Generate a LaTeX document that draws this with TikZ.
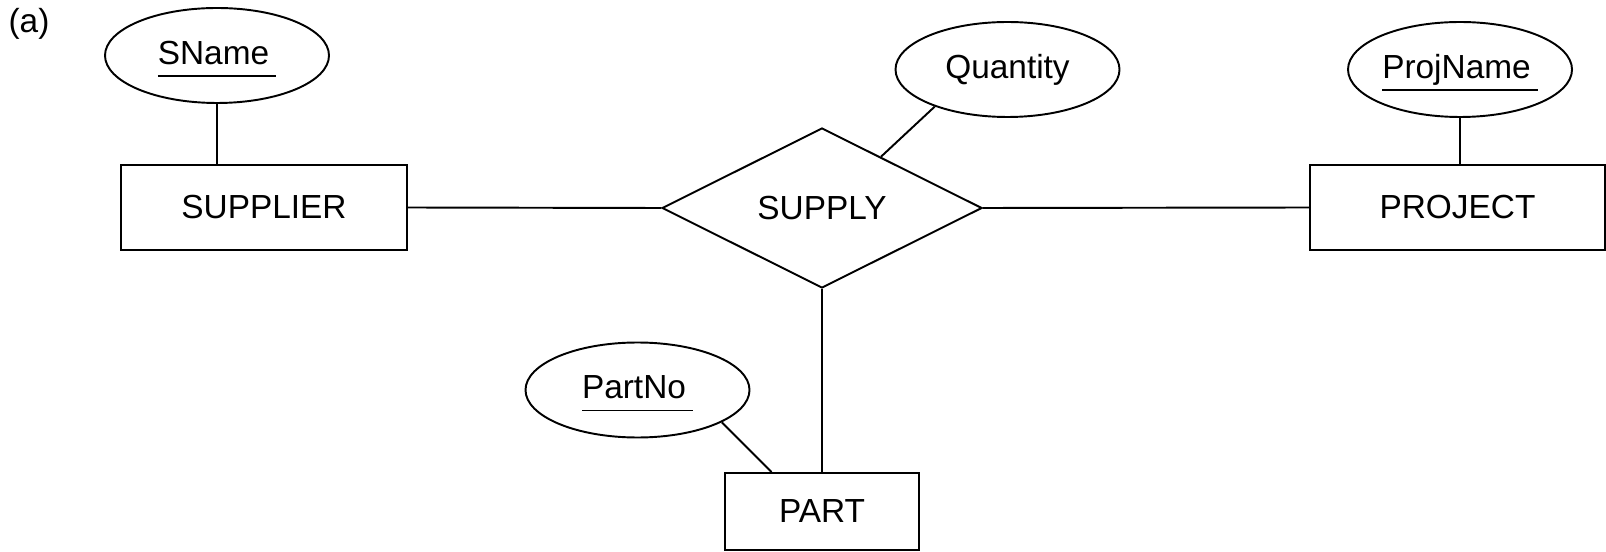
\documentclass[tikz,border=0pt]{standalone}
\usepackage{fontspec}
\setmainfont{Liberation Sans}
\usepackage{tikz}
\usetikzlibrary{shapes.geometric}
\tikzset{every node/.append style={font=\fontsize{9.5pt}{11pt}\selectfont}}
\tikzset{every path/.append style={line width=.55pt}}
\tikzset{entity/.style={draw, rectangle, inner sep=0pt}}
\tikzset{attr/.style={draw, ellipse, inner sep=0pt, minimum width=2.24cm, minimum height=.95cm}}
\tikzset{keyattr/.style={attr, text height=8.5pt, text depth=3.4pt}}
\tikzset{rel/.style={draw, diamond, inner sep=0pt, minimum width=3.2cm, minimum height=1.6cm}}
\newcommand{\ulkey}[1]{\setbox0\hbox{#1\kern2pt}\dp0=0pt\vtop{\box0\kern3pt\hrule height .45pt}}

\begin{document}
\begin{tikzpicture}
  \useasboundingbox (0,0) rectangle (16.06,-5.52);
  \node (tag) at (.29,-.24) {(a)};
  \node[entity, minimum width=2.86cm, minimum height=.85cm] (supplier) at (2.64,-2.075) {SUPPLIER};
  \node[entity, minimum width=2.95cm, minimum height=.85cm] (project) at (14.575,-2.075) {PROJECT};
  \node[entity, minimum width=1.94cm, minimum height=.77cm] (part) at (8.22,-5.115) {PART};
  \node[rel] (supply) at (8.22,-2.08) {SUPPLY};
  \node[keyattr] (sname) at (2.17,-.555) {\ulkey{SName}};
  \node[attr] (quantity) at (10.075,-.695) {Quantity};
  \node[keyattr] (projname) at (14.6,-.695) {\ulkey{ProjName}};
  \node[keyattr] (partno) at (6.375,-3.9) {\ulkey{PartNo}};
  \draw (sname.south) -- (sname.south |- supplier.north);
  \draw (projname.south) -- (projname.south |- project.north);
  \draw (partno.339) -- (part.142);
  \draw (quantity.207) -- (supply.41);
  \draw (supplier.east) -- (supply.west);
  \draw (supply.east) -- (project.west);
  \draw (supply.south) -- (part.north);
\end{tikzpicture}
\end{document}
